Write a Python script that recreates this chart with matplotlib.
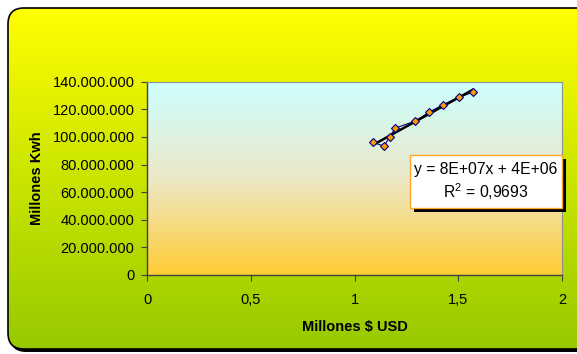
import numpy as np
import matplotlib
matplotlib.use("Agg")
import matplotlib.pyplot as plt
from matplotlib.patches import FancyBboxPatch, Rectangle
from matplotlib.ticker import FuncFormatter, MultipleLocator

# Consumo eléctrico frente a PIB (millones USD)
usd = [1.090, 1.143, 1.169, 1.197, 1.293, 1.360, 1.426, 1.503, 1.569]
kwh = [96.1e6, 93.2e6, 100.1e6, 106.4e6, 111.5e6, 118.0e6, 123.3e6, 128.7e6, 132.3e6]
x_ticks = [0, 0.5, 1, 1.5, 2]
x_tick_labels = ["0", "0,5", "1", "1,5", "2"]
eq_text = "y = 8E+07x + 4E+06"
r2_text = "R$^{2}$ = 0,9693"

plt.rcParams["font.family"] = ["Liberation Sans", "DejaVu Sans"]
plt.rcParams["mathtext.fontset"] = "custom"
plt.rcParams["mathtext.rm"] = "Liberation Sans"
plt.rcParams["mathtext.default"] = "regular"

W, H = 577, 354
fig = plt.figure(figsize=(W / 100, H / 100), dpi=100)
fig.patch.set_facecolor("white")

# Chart-area background: rounded panel with vertical yellow-to-green gradient
bg = fig.add_axes([0, 0, 1, 1], zorder=-5)
bg.set_xlim(0, W)
bg.set_ylim(0, H)
bg.axis("off")
shadow = FancyBboxPatch((10, 2), 600, 342, boxstyle="round,pad=0,rounding_size=16",
                        facecolor="black", edgecolor="none")
bg.add_patch(shadow)
panel = FancyBboxPatch((8, 5), 600, 341, boxstyle="round,pad=0,rounding_size=16",
                       facecolor="none", edgecolor="black", linewidth=1.2)
bg.add_patch(panel)
top_c = np.array([255, 255, 0]) / 255
bot_c = np.array([150, 202, 0]) / 255
t = np.linspace(0, 1, 256)[:, None]
grad = (top_c[None, :] * (1 - t) + bot_c[None, :] * t)[:, None, :]
im = bg.imshow(grad, extent=[8, 608, 5, 346], aspect="auto", origin="upper", zorder=1)
im.set_clip_path(panel)
panel.set_zorder(2)

# Plot area
ax = fig.add_axes([147 / W, 1 - 275 / H, 415 / W, 193.3 / H])
ax.set_xlim(0, 2)
ax.set_ylim(0, 140e6)

stops = np.array([[204, 255, 255], [236, 232, 200], [255, 204, 51]]) / 255
tt = np.linspace(0, 1, 256)
pgrad = np.empty((256, 3))
for k in range(3):
    pgrad[:, k] = np.interp(tt, [0, 0.5, 1], stops[:, k])
ax.imshow(pgrad[:, None, :], extent=[0, 1, 0, 1], transform=ax.transAxes,
          aspect="auto", origin="upper", zorder=0)

# Series and linear trend
ax.plot(usd, kwh, color="#000080", linewidth=0.8, zorder=3)
ax.plot(usd, kwh, linestyle="none", marker="D", markersize=4.5,
        markerfacecolor="#FF9900", markeredgecolor="#000080",
        markeredgewidth=0.8, zorder=4)
m, b = np.polyfit(usd, kwh, 1)
xs = np.array([min(usd), max(usd)])
ax.plot(xs, m * xs + b, color="black", linewidth=1.8, zorder=3.5)

# Axes styling
for side in ("left", "bottom"):
    ax.spines[side].set_color("#404040")
    ax.spines[side].set_linewidth(1.0)
for side in ("top", "right"):
    ax.spines[side].set_color("#909090")
    ax.spines[side].set_linewidth(0.8)
ax.yaxis.set_major_locator(MultipleLocator(20e6))
ax.yaxis.set_major_formatter(FuncFormatter(lambda v, p: f"{int(round(v)):,}".replace(",", ".")))
ax.set_xticks(x_ticks)
ax.set_xticklabels(x_tick_labels)
ax.tick_params(axis="both", direction="out", length=4, width=0.8, color="#404040",
               labelsize=10.5, labelcolor="black")
ax.tick_params(axis="y", pad=5)
ax.tick_params(axis="x", pad=9)
ax.set_xlabel("Millones $ USD", fontsize=10.5, fontweight="bold", labelpad=9)
ax.set_ylabel("Millones Kwh", fontsize=10.5, fontweight="bold", labelpad=6)

# Trendline equation box with drop shadow
bx0, bx1 = (410 - 147) / 415, 1.0
by0, by1 = (275 - 208) / 193.3, (275 - 154.7) / 193.3
ax.add_patch(Rectangle((bx0 + 4 / 415, by0 - 4 / 193.3), bx1 - bx0, by1 - by0,
                       transform=ax.transAxes, facecolor="black", edgecolor="none",
                       zorder=5, clip_on=False))
ax.add_patch(Rectangle((bx0, by0), bx1 - bx0, by1 - by0, transform=ax.transAxes,
                       facecolor="white", edgecolor="#FFA726", linewidth=1.0,
                       zorder=6, clip_on=False))
cx = (bx0 + bx1) / 2
ax.text(cx, (275 - 169.5) / 193.3, eq_text, transform=ax.transAxes, ha="center",
        va="center", fontsize=11.3, zorder=7)
ax.text(cx, (275 - 191.5) / 193.3, r2_text, transform=ax.transAxes, ha="center",
        va="center", fontsize=11.3, zorder=7)

fig.savefig("out.png", dpi=100)
